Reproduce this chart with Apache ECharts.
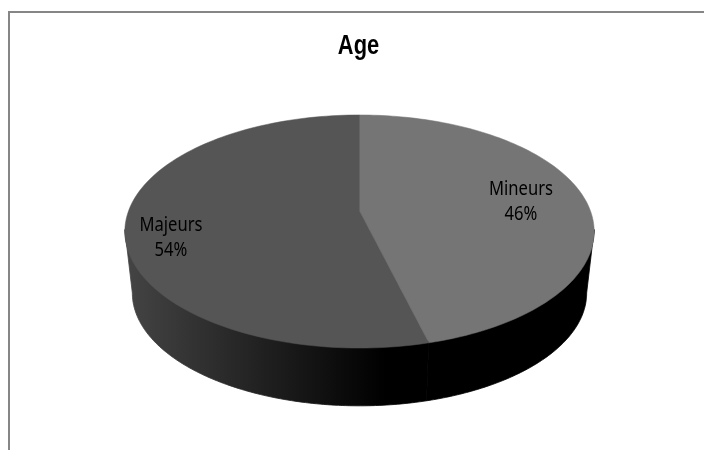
<!DOCTYPE html>
<html>
<head>
<meta charset="utf-8">
<title>Age</title>
<style>
  html, body { margin: 0; padding: 0; background: #fff; }
  #chart { width: 704px; height: 450px; }
</style>
<script src="https://cdn.jsdelivr.net/npm/echarts@6/dist/echarts.min.js"></script>
</head>
<body>
<div id="chart"></div>
<script>
  // valeurs
  var chartTitle = 'Age';
  var categories = ['Mineurs', 'Majeurs'];
  var percents = [46, 54];

  var topColors = ['#757575', '#555555'];
  var labelPos = [[521, 202], [171, 238]];

  // geometrie du camembert 3D (plateau vu en perspective)
  var cx = 359.5, cyTop = 231.5;
  var persp = -0.176, tiltA = 75.8, tiltB = 211, widthK = 231;
  var cyBottom = 293, bottomScale = 0.968;

  // t = angle depuis midi, sens horaire
  function topPoint(t) {
    var u = Math.sin(t), v = -Math.cos(t);
    var d = 1 + persp * v;
    return [cx + widthK * u / d, (tiltA * v + tiltB) / d];
  }
  // meme bord, remonte de 2px : la paroi passe sous le plateau, sans liseré
  function wallTopPoint(t) {
    var p = topPoint(t);
    return [p[0], p[1] - 2];
  }
  function bottomPoint(t) {
    var p = topPoint(t);
    return [cx + (p[0] - cx) * bottomScale, cyBottom + (p[1] - cyTop) * bottomScale];
  }
  function arc(fn, from, to) {
    var pts = [], n = 120;
    for (var i = 0; i <= n; i++) {
      pts.push(fn(from + (to - from) * i / n));
    }
    return pts;
  }

  var total = percents.reduce(function (a, b) { return a + b; }, 0);
  // limites de la face avant : la ou le bord du plateau est le plus large
  var frontStart = Math.acos(persp);
  var frontEnd = 2 * Math.PI - frontStart;

  var wallFills = [
    '#000000',
    {
      type: 'linear', global: true, x: 127, y: 0, x2: 385, y2: 0,
      colorStops: [{offset: 0, color: '#444444'}, {offset: 1, color: '#000000'}]
    }
  ];

  function renderSlice(params, api) {
    var i = params.dataIndex;
    var before = 0;
    for (var k = 0; k < i; k++) before += percents[k];
    var start = before / total * 2 * Math.PI;
    var end = (before + api.value(0)) / total * 2 * Math.PI;
    var children = [];

    var a = Math.max(start, frontStart), b = Math.min(end, frontEnd);
    if (b > a) {
      children.push({
        type: 'polygon',
        z2: 0,
        shape: {points: arc(wallTopPoint, a, b).concat(arc(bottomPoint, b, a))},
        style: {fill: wallFills[i], stroke: wallFills[i], lineWidth: 0.8}
      });
    }
    children.push({
      type: 'polygon',
      z2: 1,
      shape: {points: [[cx, tiltB]].concat(arc(topPoint, start, end))},
      style: {fill: topColors[i], stroke: topColors[i], lineWidth: 0.5}
    });
    children.push({
      type: 'text',
      x: labelPos[i][0],
      y: labelPos[i][1],
      scaleX: 0.83,
      z2: 10,
      style: {
        text: categories[i] + '\n' + api.value(0) + '%',
        fontFamily: '"Noto Sans"',
        fontSize: 20,
        lineHeight: 25,
        fill: '#000',
        textAlign: 'center',
        textVerticalAlign: 'middle'
      }
    });
    return {type: 'group', children: children};
  }

  var myChart = echarts.init(document.getElementById('chart'), null, {renderer: 'canvas'});
  myChart.setOption({
    animation: false,
    backgroundColor: '#fff',
    graphic: [{
      type: 'rect',
      shape: {x: 9, y: 12, width: 800, height: 600},
      style: {fill: 'none', stroke: '#868686', lineWidth: 2},
      silent: true
    }, {
      type: 'text',
      x: 358.5,
      y: 46,
      scaleX: 0.78,
      style: {
        text: chartTitle,
        fontFamily: '"Liberation Sans"',
        fontWeight: 'bold',
        fontSize: 28,
        fill: '#000',
        textAlign: 'center',
        textVerticalAlign: 'middle'
      }
    }],
    series: [{
      type: 'custom',
      coordinateSystem: 'none',
      renderItem: renderSlice,
      data: percents.map(function (p, i) {
        return {name: categories[i], value: [p]};
      })
    }]
  });
</script>
</body>
</html>
